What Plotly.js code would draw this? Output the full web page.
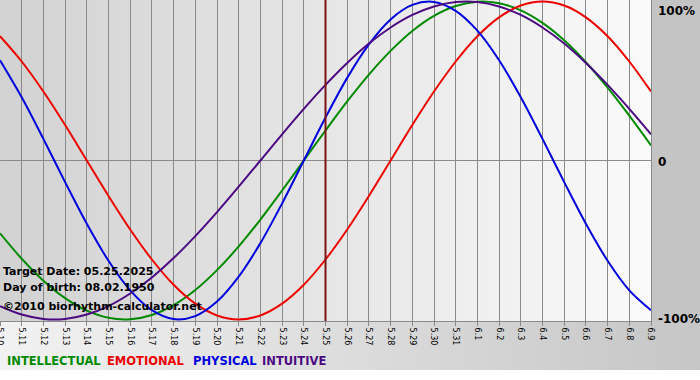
<!DOCTYPE html>
<html>
<head>
<meta charset="utf-8">
<script src="https://cdn.plot.ly/plotly-3.0.1.min.js"></script>
<style>
html,body{margin:0;padding:0;background:#fff;}
#wrap{position:relative;width:700px;height:380px;overflow:hidden;}
.bg{position:absolute;}
</style>
</head>
<body>
<div id="wrap">
  <div class="bg" style="left:0;top:0;width:651px;height:321px;background:linear-gradient(to right,#d2d2d2,#fafafa);"></div>
  <div class="bg" style="left:651px;top:0;width:49px;height:321px;background:#c4c4c4;"></div>
  <div class="bg" style="left:0;top:321px;width:700px;height:49px;background:linear-gradient(to right,#f2f2f2,#c6c6c6);"></div>
  <div id="chart" class="bg" style="left:0;top:0;width:700px;height:380px;"></div>
</div>
<script>
const dates = ['5.10','5.11','5.12','5.13','5.14','5.15','5.16','5.17','5.18','5.19','5.20','5.21','5.22','5.23','5.24','5.25','5.26','5.27','5.28','5.29','5.30','5.31','6.1','6.2','6.3','6.4','6.5','6.6','6.7','6.8','6.9'];
const intellectual = [-45.8,-61.8,-75.6,-86.6,-94.5,-99.0,-99.9,-97.2,-91.0,-81.5,-69.0,-54.1,-37.2,-18.9,0,18.9,37.2,54.1,69.0,81.5,91.0,97.2,99.9,99.0,94.5,86.6,75.6,61.8,45.8,28.2,9.5];
const emotional = [78.2,62.3,43.4,22.3,0,-22.3,-43.4,-62.3,-78.2,-90.1,-97.5,-100,-97.5,-90.1,-78.2,-62.3,-43.4,-22.3,0,22.3,43.4,62.3,78.2,90.1,97.5,100,97.5,90.1,78.2,62.3,43.4];
const physical = [63.1,39.8,13.6,-13.6,-39.8,-63.1,-81.7,-94.2,-99.8,-97.9,-88.8,-73.1,-52.0,-27.0,0,27.0,52.0,73.1,88.8,97.9,99.8,94.2,81.7,63.1,39.8,13.6,-13.6,-39.8,-63.1,-81.7,-94.2];
const intuitive = [-91.6,-96.9,-99.7,-99.7,-96.9,-91.6,-83.7,-73.6,-61.4,-47.6,-32.5,-16.5,0,16.5,32.5,47.6,61.4,73.6,83.7,91.6,96.9,99.7,99.7,96.9,91.6,83.7,73.6,61.4,47.6,32.5,16.5];
const seriesNames = ['INTELLECTUAL','EMOTIONAL','PHYSICAL','INTUITIVE'];
const seriesColors = ['#008a00','#ee0000','#0000dd','#4b0a82'];
const yTickVals = [100, 0, -100];
const yTickText = ['100%','0','-100%'];
const targetDate = '5.25';
const infoLines = ['Target Date: 05.25.2025','Day of birth: 08.02.1950','©2010 biorhythm-calculator.net'];

const seriesData = [intellectual, emotional, physical, intuitive];
const traces = seriesData.map((d, k) => ({
  x: dates, y: d, type: 'scatter', mode: 'lines', name: seriesNames[k],
  line: {color: seriesColors[k], width: 2, shape: 'spline', smoothing: 1},
  hoverinfo: 'skip'
}));

const boldFont = {family: 'DejaVu Sans, Verdana, sans-serif', size: 11, color: '#000', weight: 'bold'};
const annotations = [];
const yAnch = ['top','middle','middle'];
const yShift = [0,-1,0];
yTickVals.forEach((v, k) => {
  annotations.push({xref: 'paper', yref: 'y', x: 1, y: v, xanchor: 'left', yanchor: yAnch[k],
    xshift: 5, yshift: yShift[k], text: yTickText[k], showarrow: false,
    font: {family: 'DejaVu Sans, Verdana, sans-serif', size: 12, color: '#000', weight: 'bold'}});
});
const infoY = [271, 287, 306];
infoLines.forEach((t, k) => {
  annotations.push({xref: 'paper', yref: 'paper', x: 0, y: 1 - infoY[k] / 321, xanchor: 'left', yanchor: 'middle',
    xshift: 1, text: t, showarrow: false, font: boldFont});
});
const legX = [7, 107, 193, 262];
seriesNames.forEach((n, k) => {
  annotations.push({xref: 'paper', yref: 'paper', x: legX[k] / 651, y: 1 - 361 / 321, xanchor: 'left', yanchor: 'middle',
    xshift: -2, text: n, showarrow: false,
    font: {family: 'DejaVu Sans, Verdana, sans-serif', size: 11.5, color: seriesColors[k], weight: 'bold'}});
});

const targetIdx = dates.indexOf(targetDate);
const layout = {
  width: 700, height: 380, autosize: false,
  margin: {l: 0, r: 49, t: 0, b: 59, pad: 0},
  paper_bgcolor: 'rgba(0,0,0,0)', plot_bgcolor: 'rgba(0,0,0,0)',
  showlegend: false,
  xaxis: {
    type: 'category', range: [0, 30], fixedrange: true,
    tickvals: dates, ticktext: dates, tickangle: 90,
    tickfont: {family: 'DejaVu Sans, Verdana, sans-serif', size: 8, color: '#000'},
    ticks: 'outside', ticklen: 4, tickcolor: '#8a8a8a', tickwidth: 1,
    showgrid: true, gridcolor: '#8a8a8a', gridwidth: 1,
    showline: true, linecolor: '#8a8a8a', linewidth: 1, mirror: true,
    zeroline: false
  },
  yaxis: {
    range: [-101, 101], fixedrange: true, side: 'right',
    showticklabels: false, ticks: '', showgrid: false,
    zeroline: true, zerolinecolor: '#8a8a8a', zerolinewidth: 1,
    showline: true, linecolor: '#8a8a8a', linewidth: 1, mirror: true
  },
  shapes: [{type: 'line', xref: 'x', yref: 'paper', x0: targetIdx, x1: targetIdx, y0: 0, y1: 1,
    line: {color: '#7a1414', width: 2}, layer: 'above'}],
  annotations: annotations
};

Plotly.newPlot('chart', traces, layout, {displayModeBar: false, staticPlot: true});
</script>
</body>
</html>
